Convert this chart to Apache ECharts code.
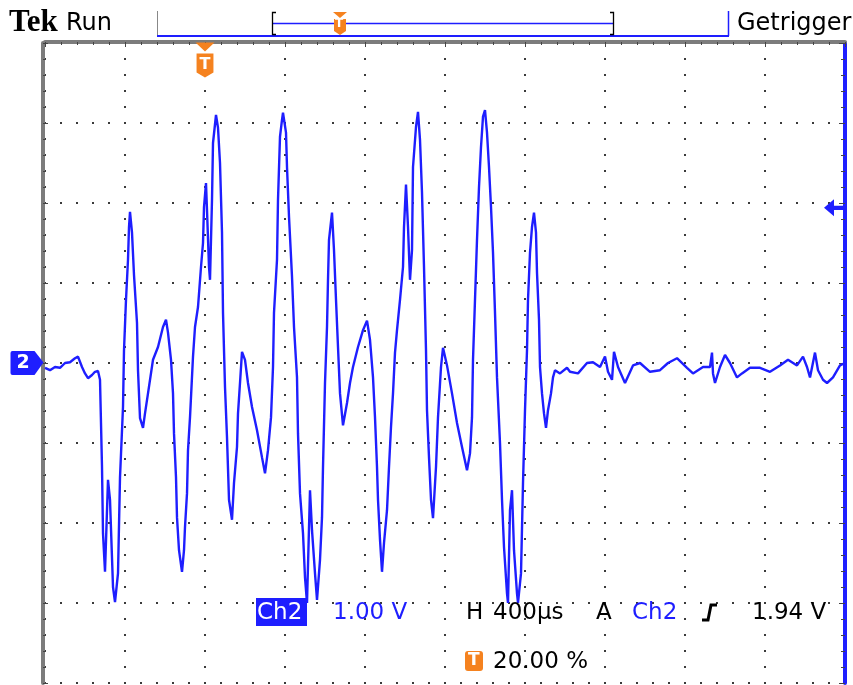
<!DOCTYPE html>
<html>
<head>
<meta charset="utf-8">
<script src="https://cdn.jsdelivr.net/npm/echarts@6/dist/echarts.min.js"></script>
<style>html,body{margin:0;padding:0;background:#fff;}#c{width:853px;height:685px;}</style>
</head>
<body>
<div id="c"></div>
<script>
// time relative to trigger (µs), 400 µs/div, trigger at 20 %
const timeUs = [-800,-775,-750,-725,-700,-675,-650,-635,-615,-600,-585,-565,-550,-535,-525,-515,-510,-500,-485,-475,-460,-450,-435,-425,-410,-405,-395,-385,-380,-375,-365,-355,-340,-335,-325,-310,-300,-285,-260,-235,-210,-195,-185,-170,-160,-155,-145,-140,-130,-115,-105,-100,-90,-85,-75,-60,-50,-35,-20,-10,-5,5,10,20,25,35,40,55,65,75,85,90,100,110,120,135,145,160,165,175,185,200,215,235,260,285,300,315,330,340,345,360,365,375,385,390,405,410,420,435,445,460,465,475,490,500,510,525,535,550,560,575,585,590,600,610,615,620,635,645,655,665,675,690,710,725,740,765,790,810,825,840,850,860,865,875,885,895,910,920,930,940,950,960,975,990,995,1005,1015,1025,1035,1040,1055,1065,1075,1085,1095,1105,1110,1120,1130,1140,1155,1165,1180,1190,1210,1235,1260,1285,1310,1325,1335,1340,1350,1360,1370,1380,1390,1400,1410,1420,1430,1440,1450,1460,1475,1485,1495,1510,1515,1525,1535,1545,1560,1565,1580,1590,1600,1610,1615,1625,1635,1645,1655,1660,1670,1675,1685,1695,1705,1715,1730,1740,1750,1775,1810,1825,1865,1910,1940,1975,2000,2015,2035,2045,2065,2100,2140,2175,2225,2275,2315,2360,2410,2440,2490,2525,2535,2540,2550,2575,2600,2625,2660,2685,2725,2775,2825,2875,2915,2960,2990,3010,3025,3050,3065,3090,3110,3140,3175,3200];
// Ch2 voltage (V), 1.00 V/div
const ch2Volts = [-0.06,-0.09,-0.05,-0.06,0.0,0.01,0.06,0.08,-0.05,-0.13,-0.19,-0.15,-0.11,-0.10,-0.21,-1.30,-2.13,-2.61,-1.46,-1.71,-2.80,-2.99,-2.63,-1.43,-0.55,0.16,0.79,1.29,1.70,1.89,1.63,1.10,0.50,-0.09,-0.69,-0.81,-0.63,-0.38,0.04,0.20,0.45,0.54,0.38,0.04,-0.38,-0.88,-1.43,-1.93,-2.34,-2.61,-2.34,-2.05,-1.63,-1.09,-0.68,0.08,0.45,0.70,1.20,1.50,1.95,2.25,1.91,1.20,1.04,2.04,2.75,3.10,2.94,2.50,1.63,0.63,-0.30,-0.93,-1.71,-1.96,-1.50,-1.05,-0.63,-0.25,0.14,0.04,-0.25,-0.55,-0.84,-1.18,-1.38,-1.09,-0.68,-0.05,0.63,1.29,2.04,2.83,3.04,3.13,2.88,2.45,1.83,1.08,0.45,-0.18,-0.88,-1.63,-2.13,-2.68,-3.00,-1.59,-2.09,-2.63,-2.96,-2.46,-1.93,-1.30,-0.25,0.45,1.04,1.54,1.88,1.41,0.79,0.20,-0.38,-0.78,-0.50,-0.25,-0.05,0.20,0.41,0.53,0.29,-0.18,-0.68,-1.30,-1.71,-2.21,-2.61,-2.25,-1.84,-1.30,-0.80,-0.38,0.13,0.41,0.79,1.20,1.70,2.23,1.70,1.04,1.41,2.45,2.95,3.14,2.79,2.13,1.20,0.16,-0.59,-1.18,-1.71,-1.94,-1.30,-0.68,-0.05,0.19,-0.03,-0.38,-0.75,-1.05,-1.34,-1.13,-0.68,0.04,0.79,1.54,2.20,2.70,3.08,3.16,2.88,2.45,1.95,1.38,0.63,-0.18,-1.00,-1.71,-2.30,-2.88,-3.00,-1.84,-1.59,-2.34,-2.88,-3.00,-2.63,-1.50,-0.59,0.16,0.79,1.38,1.70,1.88,1.63,1.13,0.54,-0.05,-0.38,-0.63,-0.81,-0.59,-0.38,-0.18,-0.09,-0.13,-0.06,-0.11,-0.13,0.00,0.01,-0.05,0.08,-0.11,-0.21,0.14,-0.05,-0.25,-0.03,0.00,-0.11,-0.09,0.00,0.06,-0.06,-0.13,-0.05,-0.05,0.13,-0.13,-0.25,-0.05,0.10,0.00,-0.18,-0.13,-0.06,-0.06,-0.11,-0.03,0.04,-0.03,0.08,-0.05,-0.18,0.13,-0.09,-0.21,-0.25,-0.18,-0.03,0.00];
const triggerLevel = 1.94;
const statusTexts = ['Ch2', '1.00 V', 'H', '400µs', 'A', 'Ch2', '1.94 V', '20.00 %'];

const BLUE = '#1e1eff';
const ORANGE = '#f5821f';
const FONT = '"DejaVu Sans", Verdana, sans-serif';

const chart = echarts.init(document.getElementById('c'), null, {renderer: 'canvas'});
const dotLine = {color: '#3a3a3a', width: 2, type: [2, 14], dashOffset: 1};

const option = {
  animation: false,
  backgroundColor: '#ffffff',
  grid: {left: 45, right: 8, top: 43, bottom: 2, containLabel: false},
  xAxis: [
    {type: 'value', min: -800, max: 3200, interval: 400, position: 'top', offset: 1,
     axisLine: {show: true, onZero: false, lineStyle: {color: '#7c7c7c', width: 4}},
     axisTick: {show: true, inside: true, length: 5, lineStyle: {color: '#444', width: 1}},
     minorTick: {show: true, splitNumber: 5, length: 3, lineStyle: {color: '#444', width: 1}},
     axisLabel: {show: false},
     splitLine: {show: true, lineStyle: dotLine}},
    {type: 'value', min: -800, max: 3200, interval: 400, position: 'bottom',
     axisLine: {show: false, onZero: false}, axisTick: {show: false}, axisLabel: {show: false}, splitLine: {show: false}}
  ],
  yAxis: [
    {type: 'value', min: -4, max: 4, interval: 1, position: 'left', offset: 2,
     axisLine: {show: true, onZero: false, lineStyle: {color: '#7c7c7c', width: 4}},
     axisTick: {show: true, inside: true, length: 5, lineStyle: {color: '#444', width: 1}},
     minorTick: {show: true, splitNumber: 5, length: 3, lineStyle: {color: '#444', width: 1}},
     axisLabel: {show: false},
     splitLine: {show: true, lineStyle: dotLine}},
    {type: 'value', min: -4, max: 4, interval: 1, position: 'right', offset: 0,
     axisLine: {show: true, onZero: false, lineStyle: {color: BLUE, width: 4}},
     axisTick: {show: true, inside: true, length: 6, lineStyle: {color: '#444', width: 1}},
     minorTick: {show: true, splitNumber: 5, length: 4, lineStyle: {color: '#444', width: 1}},
     axisLabel: {show: false}, splitLine: {show: false}}
  ],
  series: [{
    type: 'line', xAxisIndex: 0, yAxisIndex: 0,
    data: timeUs.map((t, i) => [t, ch2Volts[i]]),
    showSymbol: false, symbol: 'none',
    lineStyle: {color: BLUE, width: 2.4, opacity: 1},
    z: 5
  }, {
    // trigger level marker on right edge
    type: 'scatter', xAxisIndex: 0, yAxisIndex: 0,
    data: [[3200, triggerLevel]],
    symbol: 'path://M0,8 L10,0 L10,6 L20,6 L20,10 L10,10 L10,16 Z',
    symbolSize: [20, 17], symbolOffset: [-11, 0],
    itemStyle: {color: BLUE, opacity: 1}, z: 6, silent: true
  }, {
    // ground level marker "2" on left edge
    type: 'scatter', xAxisIndex: 0, yAxisIndex: 0,
    data: [[-800, 0]],
    symbol: 'path://M0,2 Q0,0 2,0 L24,0 L33,11 L24,23 L2,23 Q0,23 0,21 Z',
    symbolSize: [33, 24], symbolOffset: [-18, 0],
    itemStyle: {color: BLUE, opacity: 1},
    label: {show: true, formatter: '2', color: '#fff', fontSize: 19, fontWeight: 'bold', fontFamily: FONT, position: 'inside', offset: [-4, 0]},
    z: 6, silent: true
  }, {
    // trigger position marker at top
    type: 'scatter', xAxisIndex: 0, yAxisIndex: 0,
    data: [[0, 4]],
    symbol: 'path://M0,0 L18,0 L9,9 Z M1,11 L17,11 L17,30 L9,35 L1,30 Z',
    symbolSize: [19, 35], symbolOffset: [0, 17],
    itemStyle: {color: ORANGE, opacity: 1},
    label: {show: true, formatter: 'T', color: '#fff', fontSize: 16, fontWeight: 'bold', fontFamily: FONT, position: 'inside', offset: [0, 5]},
    z: 7, silent: true
  }],
  graphic: [
    {type: 'text', x: 9, y: 23, style: {text: 'Tek', font: 'bold 31px "Liberation Serif", serif', fill: '#000', verticalAlign: 'middle'}},
    {type: 'text', x: 66, y: 24, style: {text: 'Run', font: '24px ' + FONT, fill: '#000', verticalAlign: 'middle'}},
    {type: 'text', x: 737, y: 24, style: {text: 'Getrigger', font: '24px ' + FONT, fill: '#000', verticalAlign: 'middle'}},
    // record bar
    {type: 'line', shape: {x1: 157.5, y1: 11, x2: 157.5, y2: 36}, style: {stroke: '#888', lineWidth: 1}},
    {type: 'line', shape: {x1: 157, y1: 36, x2: 729, y2: 36}, style: {stroke: BLUE, lineWidth: 2}},
    {type: 'line', shape: {x1: 728.5, y1: 11, x2: 728.5, y2: 36}, style: {stroke: BLUE, lineWidth: 1.5}},
    {type: 'line', shape: {x1: 273, y1: 23.5, x2: 613, y2: 23.5}, style: {stroke: BLUE, lineWidth: 1.5}},
    {type: 'polyline', shape: {points: [[276, 12.5], [272.5, 12.5], [272.5, 34.5], [276, 34.5]]}, style: {stroke: '#000', lineWidth: 1.3, fill: null}},
    {type: 'polyline', shape: {points: [[610, 12.5], [613.5, 12.5], [613.5, 34.5], [610, 34.5]]}, style: {stroke: '#000', lineWidth: 1.3, fill: null}},
    {type: 'polygon', shape: {points: [[333, 12], [347, 12], [340, 18]]}, style: {fill: ORANGE}},
    {type: 'polygon', shape: {points: [[334, 19], [346, 19], [346, 31], [340, 35], [334, 31]]}, style: {fill: ORANGE}},
    {type: 'text', left: 335, top: 18, style: {text: 'T', font: 'bold 12px ' + FONT, fill: '#fff'}},
    // status line
    {type: 'rect', shape: {x: 256, y: 598, width: 51, height: 28}, style: {fill: BLUE}, z: 10},
    {type: 'text', x: 257, y: 613, style: {text: statusTexts[0], font: '23px ' + FONT, fill: '#fff', verticalAlign: 'middle'}, z: 11},
    {type: 'text', x: 333, y: 613, style: {text: statusTexts[1], font: '23px ' + FONT, fill: BLUE, verticalAlign: 'middle'}, z: 11},
    {type: 'text', x: 466, y: 613, style: {text: statusTexts[2], font: '23px ' + FONT, fill: '#000', verticalAlign: 'middle'}, z: 11},
    {type: 'text', x: 493, y: 613, style: {text: statusTexts[3], font: '23px ' + FONT, fill: '#000', verticalAlign: 'middle'}, z: 11},
    {type: 'text', x: 596, y: 613, style: {text: statusTexts[4], font: '23px ' + FONT, fill: '#000', verticalAlign: 'middle'}, z: 11},
    {type: 'text', x: 632, y: 613, style: {text: statusTexts[5], font: '23px ' + FONT, fill: BLUE, verticalAlign: 'middle'}, z: 11},
    {type: 'polyline', shape: {points: [[702, 620], [708, 620], [711, 605], [717, 605]]}, style: {stroke: '#000', lineWidth: 3, fill: null}, z: 11},
    {type: 'text', x: 752, y: 613, style: {text: statusTexts[6], font: '23px ' + FONT, fill: '#000', verticalAlign: 'middle'}, z: 11},
    {type: 'rect', shape: {x: 465, y: 651, width: 18, height: 20, r: 3}, style: {fill: ORANGE}, z: 10},
    {type: 'text', x: 468, y: 661, style: {text: 'T', font: 'bold 17px ' + FONT, fill: '#fff', verticalAlign: 'middle'}, z: 11},
    {type: 'text', x: 493, y: 662, style: {text: statusTexts[7], font: '23px ' + FONT, fill: '#000', verticalAlign: 'middle'}, z: 11}
  ]
};
chart.setOption(option);
</script>
</body>
</html>
